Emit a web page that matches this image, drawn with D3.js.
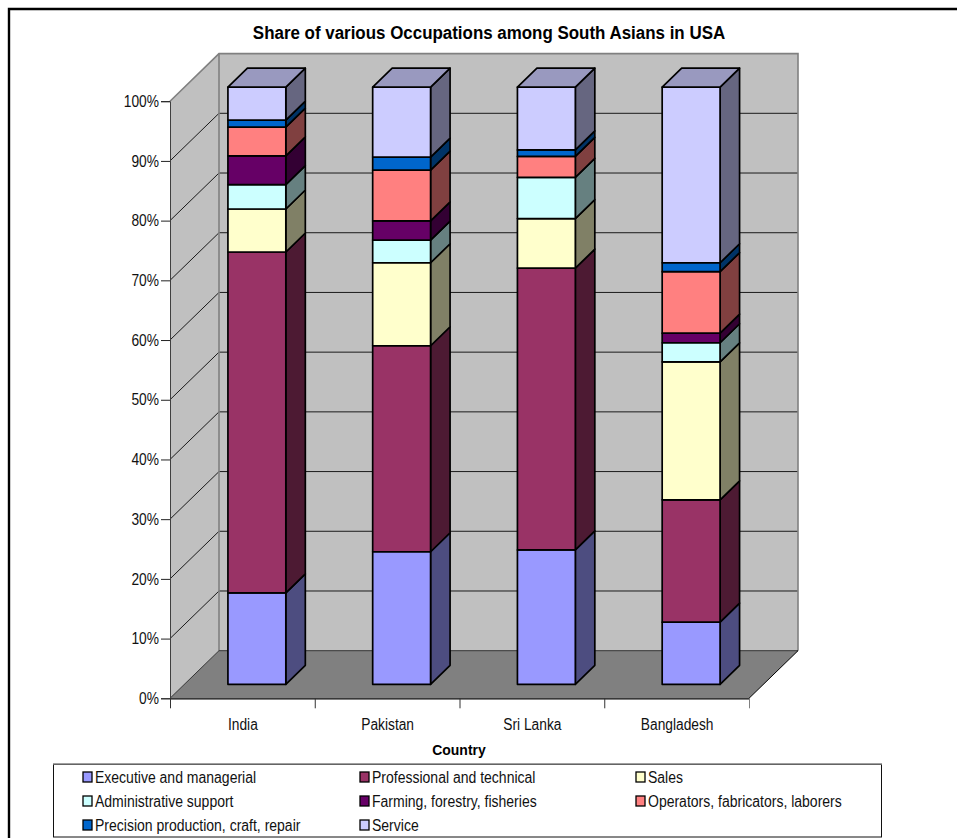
<!DOCTYPE html>
<html>
<head>
<meta charset="utf-8">
<script src="https://cdn.jsdelivr.net/npm/d3@7"></script>
<style>
  html, body { margin: 0; padding: 0; background: #fff; }
  svg { display: block; font-family: "Liberation Sans", Arial, sans-serif; }
</style>
</head>
<body>
<svg id="chart" width="957" height="838"></svg>
<script>
// Occupation shares (percent of employed) by country of origin
const countries = ["India", "Pakistan", "Sri Lanka", "Bangladesh"];
const occupations = [
  "Executive and managerial",
  "Professional and technical",
  "Sales",
  "Administrative support",
  "Farming, forestry, fisheries",
  "Operators, fabricators, laborers",
  "Precision production, craft, repair",
  "Service"
];
const executive = [15.3, 22.2, 22.5, 10.4];
const professional = [57.1, 34.5, 47.2, 20.5];
const sales = [7.2, 13.9, 8.3, 23.1];
const administrative = [4.1, 3.8, 6.9, 3.2];
const farming = [4.8, 3.2, 0, 1.6];
const operators = [4.8, 8.5, 3.5, 10.3];
const precision = [1.2, 2.2, 1.1, 1.5];
const service = [5.5, 11.7, 10.5, 29.4];
const seriesValues = [executive, professional, sales, administrative, farming, operators, precision, service];
const palette = ["#9999FF", "#993366", "#FFFFCC", "#CCFFFF", "#660066", "#FF8080", "#0066CC", "#CCCCFF"];
const yTicks = [0, 10, 20, 30, 40, 50, 60, 70, 80, 90, 100];

const svg = d3.select("#chart");

// Front plane of the 3D box
const left = 170, right = 749, y0 = 698.3, y100 = 101.2;
// Oblique offsets: full box depth, bar inset from the front, and bar depth
const boxDx = 49, boxDy = -47.6;
const insetDx = 14.5, insetDy = -14;
const barDx = 19.5, barDy = -19;

const x = d3.scaleBand().domain(countries).range([left, right]).paddingInner(0.6).paddingOuter(0.3);
const y = d3.scaleLinear().domain([0, 100]).range([y0, y100]);

const poly = pts => pts.map(p => p.join(",")).join(" ");
// Condense text horizontally to the chart's narrow lettering
function condense(sel, ratio) {
  sel.each(function () {
    const t = d3.select(this);
    t.attr("textLength", this.getComputedTextLength() * ratio).attr("lengthAdjust", "spacingAndGlyphs");
  });
}

// Outer frame, running off the page on the right and bottom
svg.append("path").attr("d", "M9,838V9H957").attr("fill", "none").attr("stroke", "#000").attr("stroke-width", 2.4);

// Walls and floor
const wallGrey = "#C0C0C0", edgeGrey = "#808080";
svg.append("polygon").attr("fill", wallGrey)
  .attr("points", poly([[left, y100], [left + boxDx, y100 + boxDy], [left + boxDx, y0 + boxDy], [left, y0]]));
svg.append("polygon").attr("fill", wallGrey)
  .attr("points", poly([[left + boxDx, y100 + boxDy], [right + boxDx, y100 + boxDy], [right + boxDx, y0 + boxDy], [left + boxDx, y0 + boxDy]]));
svg.append("polygon").attr("fill", edgeGrey)
  .attr("points", poly([[left, y0], [left + boxDx, y0 + boxDy], [right + boxDx, y0 + boxDy], [right, y0]]));

// Gridlines across the side and back walls
const grid = svg.append("g").attr("stroke", "#1a1a1a").attr("stroke-width", 1).attr("fill", "none");
yTicks.filter(d => d > 0 && d < 100).forEach(d => {
  grid.append("polyline")
    .attr("points", poly([[left, y(d)], [left + boxDx, y(d) + boxDy], [right + boxDx, y(d) + boxDy]]));
});

// Wall outlines
svg.append("polyline").attr("fill", "none").attr("stroke", edgeGrey).attr("stroke-width", 1.6)
  .attr("points", poly([[left, y100], [left + boxDx, y100 + boxDy], [right + boxDx, y100 + boxDy], [right + boxDx, y0 + boxDy]]));
svg.append("line").attr("stroke", edgeGrey).attr("stroke-width", 1.6)
  .attr("x1", left + boxDx).attr("x2", left + boxDx).attr("y1", y100 + boxDy).attr("y2", y0 + boxDy);
svg.append("polyline").attr("fill", "none").attr("stroke", "#333").attr("stroke-width", 1)
  .attr("points", poly([[left, y0], [left + boxDx, y0 + boxDy], [right + boxDx, y0 + boxDy]]));
svg.append("line").attr("stroke", "#000").attr("stroke-width", 1)
  .attr("x1", right).attr("y1", y0).attr("x2", right + boxDx).attr("y2", y0 + boxDy);

// Stacked bars: side faces first, then the front faces, then the cap
const rows = countries.map((c, i) => {
  const row = { country: c };
  occupations.forEach((o, s) => { row[o] = seriesValues[s][i]; });
  return row;
});
const stacked = d3.stack().keys(occupations)(rows);
const shade = (hex, k) => {
  const c = d3.rgb(hex);
  return d3.rgb(c.r * k, c.g * k, c.b * k).formatHex();
};

const bars = svg.append("g").attr("stroke", "#000").attr("stroke-width", 1.7).attr("stroke-linejoin", "round");
stacked.forEach((layer, s) => {
  const g = bars.append("g").attr("class", "layer");
  const visible = layer.filter(d => d[1] - d[0] > 0);
  g.selectAll("polygon.side").data(visible).join("polygon").attr("class", "side")
    .attr("fill", shade(palette[s], 0.5))
    .attr("points", d => {
      const xr = x(d.data.country) + x.bandwidth() + insetDx;
      const yb = y(d[0]) + insetDy, yt = y(d[1]) + insetDy;
      return poly([[xr, yb], [xr + barDx, yb + barDy], [xr + barDx, yt + barDy], [xr, yt]]);
    });
  g.selectAll("rect").data(visible).join("rect")
    .attr("fill", palette[s])
    .attr("x", d => x(d.data.country) + insetDx)
    .attr("width", x.bandwidth())
    .attr("y", d => y(d[1]) + insetDy)
    .attr("height", d => y(d[0]) - y(d[1]));
});
// Cap on the topmost segment
const topLayer = stacked[stacked.length - 1];
bars.append("g").selectAll("polygon").data(topLayer).join("polygon")
  .attr("fill", shade(palette[palette.length - 1], 0.75))
  .attr("points", d => {
    const xl = x(d.data.country) + insetDx, xr = xl + x.bandwidth(), yt = y(d[1]) + insetDy;
    return poly([[xl, yt], [xl + barDx, yt + barDy], [xr + barDx, yt + barDy], [xr, yt]]);
  });

// Value axis on the front-left edge
const yAxis = svg.append("g").attr("transform", `translate(${left},0)`)
  .call(d3.axisLeft(y).tickValues(yTicks).tickFormat(d => d + "%").tickSize(9).tickPadding(2));
yAxis.select(".domain").attr("stroke", "#404040").attr("stroke-width", 1);
yAxis.selectAll("line").attr("stroke", "#222");
yAxis.selectAll("text").attr("font-size", 16).attr("fill", "#111").attr("font-family", "Liberation Sans").call(condense, 0.86);

// Category axis: labels at band centres, tick marks on the band boundaries
const centre = d3.scalePoint().domain(countries).range([left + x.step() / 2, right - x.step() / 2]);
const xLabels = svg.append("g").attr("transform", `translate(0,${y0})`)
  .call(d3.axisBottom(centre).tickSize(0).tickPadding(20));
xLabels.select(".domain").remove();
xLabels.selectAll("text").attr("font-size", 16).attr("fill", "#111").attr("font-family", "Liberation Sans").call(condense, 0.86);

const boundaries = d3.range(countries.length + 1);
const bx = d3.scaleLinear().domain([0, countries.length]).range([left, right]);
const xTicks = svg.append("g").attr("transform", `translate(0,${y0})`)
  .call(d3.axisBottom(bx).tickValues(boundaries).tickFormat("").tickSize(10).tickSizeOuter(0));
xTicks.select(".domain").attr("stroke", "#000").attr("stroke-width", 1.2);
xTicks.selectAll("line").attr("stroke", (d, i) => i === countries.length ? edgeGrey : "#333");

// Titles
svg.append("text").attr("x", 489).attr("y", 39).attr("text-anchor", "middle")
  .attr("font-size", 18).attr("font-weight", "bold").attr("fill", "#000")
  .text("Share of various Occupations among South Asians in USA").call(condense, 0.94);
svg.append("text").attr("x", 459).attr("y", 755).attr("text-anchor", "middle")
  .attr("font-size", 15).attr("font-weight", "bold").attr("fill", "#000")
  .text("Country").call(condense, 0.93);

// Legend box and entries
const legend = svg.append("g");
legend.append("rect").attr("x", 53.5).attr("y", 764.5).attr("width", 828).attr("height", 72.5)
  .attr("fill", "#fff").attr("stroke", "#111").attr("stroke-width", 1);
legend.append("line").attr("x1", 53).attr("x2", 882).attr("y1", 764).attr("y2", 764).attr("stroke", "#808080").attr("stroke-width", 1.5);
const colX = [83, 360, 636], rowY = [777, 801, 825];
const entry = legend.selectAll("g.entry").data(occupations).join("g").attr("class", "entry")
  .attr("transform", (d, i) => `translate(${colX[i % 3]},${rowY[Math.floor(i / 3)]})`);
entry.append("rect").attr("x", 0).attr("y", -5).attr("width", 9).attr("height", 10)
  .attr("fill", (d, i) => palette[i]).attr("stroke", "#000").attr("stroke-width", 1.3);
entry.append("text").attr("x", 12).attr("y", 5.5).attr("font-size", 16).attr("fill", "#111")
  .text(d => d).call(condense, 0.875);
</script>
</body>
</html>
